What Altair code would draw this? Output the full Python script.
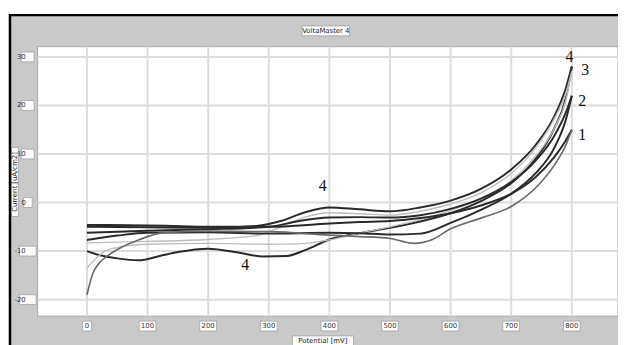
import altair as alt
import pandas as pd

# ---------------- data ----------------
X_TICKS = [0, 100, 200, 300, 400, 500, 600, 700, 800]
Y_TICKS = [-20, -10, 0, 10, 20, 30]

# loop 4 (ends near 28)
L4A_X = [0, 100, 200, 280, 320, 360, 400, 450, 500, 550, 600, 650, 700, 740, 770, 790, 800]
L4A_Y = [-5.0, -5.1, -5.2, -4.8, -3.8, -2.0, -1.0, -1.4, -1.8, -1.0, 0.4, 2.8, 6.8, 11.8, 17.5, 23.5, 28.0]
L4B_X = [0, 20, 50, 85, 120, 150, 200, 250, 290, 330, 360, 400, 450, 500, 550, 600, 650, 700, 740, 770, 790, 800]
L4B_Y = [-10.0, -10.8, -11.5, -11.9, -11.0, -10.2, -9.5, -10.3, -11.1, -11.0, -9.8, -7.6, -6.3, -5.2, -3.9, -2.2, 0.3, 4.0, 9.0, 15.0, 21.5, 28.0]

# loop 3 (ends near 27, light trace)
L3A_X = [0, 100, 200, 280, 320, 360, 400, 450, 500, 550, 600, 650, 700, 740, 770, 790, 800]
L3A_Y = [-8.3, -8.0, -7.6, -6.8, -5.0, -3.0, -2.1, -2.3, -2.6, -1.8, -0.3, 2.0, 6.0, 11.2, 17.0, 22.5, 27.0]
L3B_X = [0, 15, 30, 60, 100, 200, 300, 350, 400, 450, 500, 550, 600, 650, 700, 740, 770, 790, 800]
L3B_Y = [-13.5, -11.5, -10.0, -9.0, -8.6, -8.4, -8.6, -8.5, -7.7, -6.3, -5.0, -3.5, -1.6, 0.8, 4.5, 9.5, 15.0, 21.0, 27.0]

# loop 2 (ends near 22)
L2A_X = [0, 100, 200, 300, 350, 400, 450, 500, 550, 600, 650, 700, 740, 770, 790, 800]
L2A_Y = [-6.2, -5.8, -5.5, -5.0, -3.8, -3.1, -3.0, -3.1, -2.6, -1.3, 0.8, 4.2, 8.6, 13.5, 18.5, 22.0]
L2B_X = [0, 50, 100, 200, 300, 400, 450, 500, 550, 600, 650, 700, 740, 770, 790, 800]
L2B_Y = [-7.7, -6.8, -6.2, -6.1, -6.4, -6.2, -6.3, -6.6, -6.4, -4.2, -1.5, 1.8, 6.0, 11.0, 17.0, 22.0]

# loop 1 (ends near 15)
L1A_X = [0, 130, 200, 300, 400, 450, 500, 550, 600, 650, 700, 740, 770, 790, 800]
L1A_Y = [-4.6, -4.8, -5.0, -5.0, -4.3, -4.0, -3.8, -3.2, -2.2, -0.6, 1.8, 5.2, 9.2, 12.8, 15.0]
L1B_X = [0, 10, 20, 36, 57, 85, 128, 200, 300, 400, 450, 500, 540, 570, 600, 650, 700, 740, 770, 790, 800]
L1B_Y = [-19.0, -14.5, -12.5, -10.8, -9.2, -7.7, -6.2, -5.9, -6.0, -6.7, -7.0, -7.4, -8.4, -7.6, -5.4, -3.2, -0.8, 3.0, 7.5, 11.8, 15.0]

CURVES = [
    ("L4A", L4A_X, L4A_Y, "dark"), ("L4B", L4B_X, L4B_Y, "dark"),
    ("L3A", L3A_X, L3A_Y, "light"), ("L3B", L3B_X, L3B_Y, "light"),
    ("L2A", L2A_X, L2A_Y, "dark"), ("L2B", L2B_X, L2B_Y, "dark"),
    ("L1A", L1A_X, L1A_Y, "dark"), ("L1B", L1B_X, L1B_Y, "mid"),
]

LABEL_TEXT = ["4", "3", "2", "1", "4", "4"]
LABEL_X = [796, 822, 817, 817, 389, 261]
LABEL_Y = [29.9, 27.2, 20.9, 13.8, 3.3, -12.8]

TITLE = "VoltaMaster 4"
X_TITLE = "Potential [mV]"
Y_TITLE = "Current [uA/cm2]"

# ---------------- build tables ----------------
rows = []
for name, xs, ys, tone in CURVES:
    for xv, yv in zip(xs, ys):
        rows.append({"branch": name, "x": xv, "y": yv, "tone": tone})
curves_df = pd.DataFrame(rows)

xt_df = pd.DataFrame({"v": X_TICKS, "lab": [str(v) for v in X_TICKS],
                      "n": [str(len(str(v))) for v in X_TICKS]})
yt_df = pd.DataFrame({"v": Y_TICKS, "lab": [str(v) for v in Y_TICKS],
                      "n": [str(len(str(v))) for v in Y_TICKS]})
lab_df = pd.DataFrame({"x": LABEL_X, "y": LABEL_Y, "t": LABEL_TEXT})
one = pd.DataFrame({"a": [0]})

W, H = 588, 273
xscale = alt.Scale(domain=[-81.4, 876.2], nice=False, zero=False)
yscale = alt.Scale(domain=[-23.4, 32.1], nice=False, zero=False)

GREY = "#c9c9c9"

frame = alt.Chart(one).mark_rect(color=GREY).encode(
    x=alt.value(-28), x2=alt.value(W), y=alt.value(-32), y2=alt.value(H + 30))
plot_bg = alt.Chart(one).mark_rect(color="white", stroke="#a9a9a9", strokeWidth=1).encode(
    x=alt.value(0), x2=alt.value(W), y=alt.value(0), y2=alt.value(H))

vgrid = alt.Chart(xt_df).mark_rule(color="#dcdcdc", strokeWidth=2).encode(
    x=alt.X("v:Q", scale=xscale, axis=None))
hgrid = alt.Chart(yt_df).mark_rule(color="#dcdcdc", strokeWidth=2).encode(
    y=alt.Y("v:Q", scale=yscale, axis=None))

lines = alt.Chart(curves_df).mark_line(interpolate="monotone").encode(
    x=alt.X("x:Q", scale=xscale, axis=None),
    y=alt.Y("y:Q", scale=yscale, axis=None),
    detail="branch:N",
    order="x:Q",
    color=alt.Color("tone:N", scale=alt.Scale(domain=["dark", "mid", "light"],
                                               range=["#2a2a2a", "#6a6a6a", "#bdbdbd"]),
                    legend=None),
    strokeWidth=alt.StrokeWidth("tone:N", scale=alt.Scale(domain=["dark", "mid", "light"],
                                                           range=[2.0, 1.4, 1.3]),
                                legend=None),
)

curve_labels = alt.Chart(lab_df).mark_text(font="Liberation Serif", fontSize=16, color="#111",
                                           baseline="middle", align="center").encode(
    x=alt.X("x:Q", scale=xscale, axis=None),
    y=alt.Y("y:Q", scale=yscale, axis=None),
    text="t:N")

XBOX = ["M-0.45,-0.5H0.45V0.5H-0.45Z", "M-0.65,-0.5H0.65V0.5H-0.65Z", "M-0.85,-0.5H0.85V0.5H-0.85Z"]
YBOX = ["M-0.8,-0.5H0V0.5H-0.8Z", "M-1.2,-0.5H0V0.5H-1.2Z", "M-1.5,-0.5H0V0.5H-1.5Z"]

xbox = alt.Chart(xt_df).mark_point(filled=True, fill="white", stroke="#a0a0a0", strokeWidth=0.8,
                                   opacity=1, size=400).encode(
    x=alt.X("v:Q", scale=xscale, axis=None),
    y=alt.value(H + 10),
    shape=alt.Shape("n:N", scale=alt.Scale(domain=["1", "2", "3"], range=XBOX), legend=None))
xlab = alt.Chart(xt_df).mark_text(font="DejaVu Sans", fontSize=7, color="#333",
                                  baseline="middle").encode(
    x=alt.X("v:Q", scale=xscale, axis=None), y=alt.value(H + 10), text="lab:N")

ybox = alt.Chart(yt_df).mark_point(filled=True, fill="white", stroke="#a0a0a0", strokeWidth=0.8,
                                   opacity=1, size=400).encode(
    x=alt.value(-10),
    y=alt.Y("v:Q", scale=yscale, axis=None),
    shape=alt.Shape("n:N", scale=alt.Scale(domain=["1", "2", "3"], range=YBOX), legend=None))
ylab = alt.Chart(yt_df).mark_text(font="DejaVu Sans", fontSize=7, color="#333",
                                  baseline="middle", align="right").encode(
    x=alt.value(-12), y=alt.Y("v:Q", scale=yscale, axis=None), text="lab:N")

title_box = alt.Chart(one).mark_rect(color="white", stroke="#a0a0a0", strokeWidth=0.8).encode(
    x=alt.value(268), x2=alt.value(316), y=alt.value(-21), y2=alt.value(-11))
title_txt = alt.Chart(one).mark_text(font="DejaVu Sans", fontSize=7, color="#222",
                                     baseline="middle", text=TITLE).encode(
    x=alt.value(292), y=alt.value(-16))

xt_box = alt.Chart(one).mark_rect(color="white", stroke="#a0a0a0", strokeWidth=0.8).encode(
    x=alt.value(258), x2=alt.value(320), y=alt.value(H + 20), y2=alt.value(H + 32))
xt_txt = alt.Chart(one).mark_text(font="DejaVu Sans", fontSize=7, color="#222",
                                  baseline="middle", text=X_TITLE).encode(
    x=alt.value(289), y=alt.value(H + 25))

yt_box = alt.Chart(one).mark_rect(color="white", stroke="#a0a0a0", strokeWidth=0.8).encode(
    x=alt.value(-26.5), x2=alt.value(-19.5), y=alt.value(102), y2=alt.value(172))
yt_txt = alt.Chart(one).mark_text(font="DejaVu Sans", fontSize=7, color="#222", angle=270,
                                  baseline="middle", text=Y_TITLE).encode(
    x=alt.value(-23), y=alt.value(137))

top_line = alt.Chart(one).mark_rule(color="black", strokeWidth=2.5).encode(
    x=alt.value(-29), x2=alt.value(W), y=alt.value(-32))
left_line = alt.Chart(one).mark_rule(color="black", strokeWidth=2.5).encode(
    x=alt.value(-28), y=alt.value(-33), y2=alt.value(H + 30))

chart = alt.layer(
    frame, plot_bg, vgrid, hgrid, lines, curve_labels,
    xbox, xlab, ybox, ylab, title_box, title_txt, xt_box, xt_txt, yt_box, yt_txt,
    top_line, left_line,
).properties(
    width=W, height=H,
    padding={"left": 30, "top": 37, "right": 0, "bottom": 27},
    autosize=alt.AutoSizeParams(type="none"),
    background="white",
).configure_view(stroke=None)

chart.save("out.html", embed_options={"renderer": "svg", "actions": False})
